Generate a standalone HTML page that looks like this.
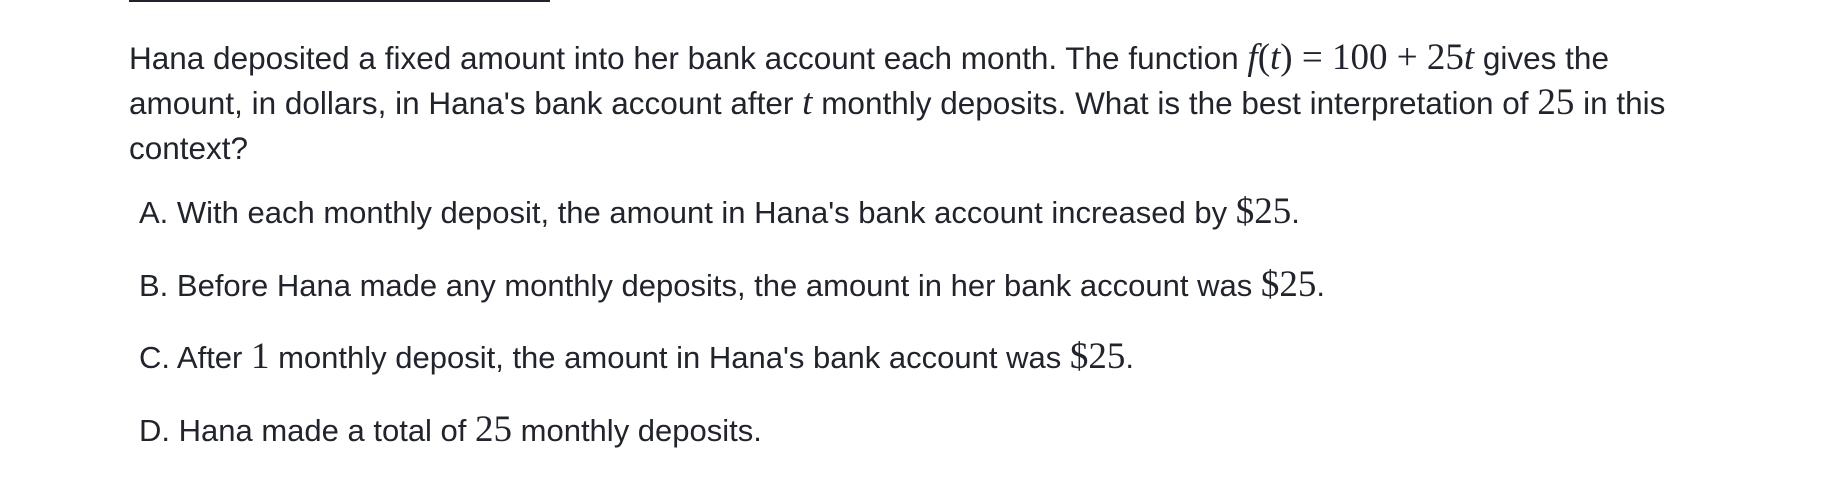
<!DOCTYPE html>
<html><head><meta charset="utf-8"><style>
body{margin:0;width:1836px;height:478px;background:#fff;overflow:hidden;font-family:"Liberation Sans",sans-serif;color:#21242c;}
.rule{position:absolute;left:129px;top:0;width:421px;height:2px;background:#21242c;}
.q{position:absolute;left:129px;top:36px;width:1565px;font-size:31.5px;line-height:45px;}
.m{font-family:"Liberation Serif",serif;font-size:37px;line-height:30px;}
.mi{font-family:"Liberation Serif",serif;font-style:italic;font-size:37px;line-height:30px;}
.opt{position:absolute;left:139px;font-size:31px;white-space:nowrap;}
</style></head><body>
<div class="rule"></div>
<div class="q">Hana deposited a fixed amount into her bank account each month. The function <span class="mi">f</span><span class="m">(</span><span class="mi">t</span><span class="m">) = 100 + 25</span><span class="mi">t</span> gives the amount, in dollars, in Hana's bank account after <span class="mi">t</span> monthly deposits. What is the best interpretation of <span class="m">25</span> in this context?</div>
<div class="opt" style="top:195px">A. With each monthly deposit, the amount in Hana's bank account increased by <span class="m">$25</span>.</div>
<div class="opt" style="top:268px">B. Before Hana made any monthly deposits, the amount in her bank account was <span class="m">$25</span>.</div>
<div class="opt" style="top:340px">C. After <span class="m">1</span> monthly deposit, the amount in Hana's bank account was <span class="m">$25</span>.</div>
<div class="opt" style="top:413px">D. Hana made a total of <span class="m">25</span> monthly deposits.</div>
</body></html>
